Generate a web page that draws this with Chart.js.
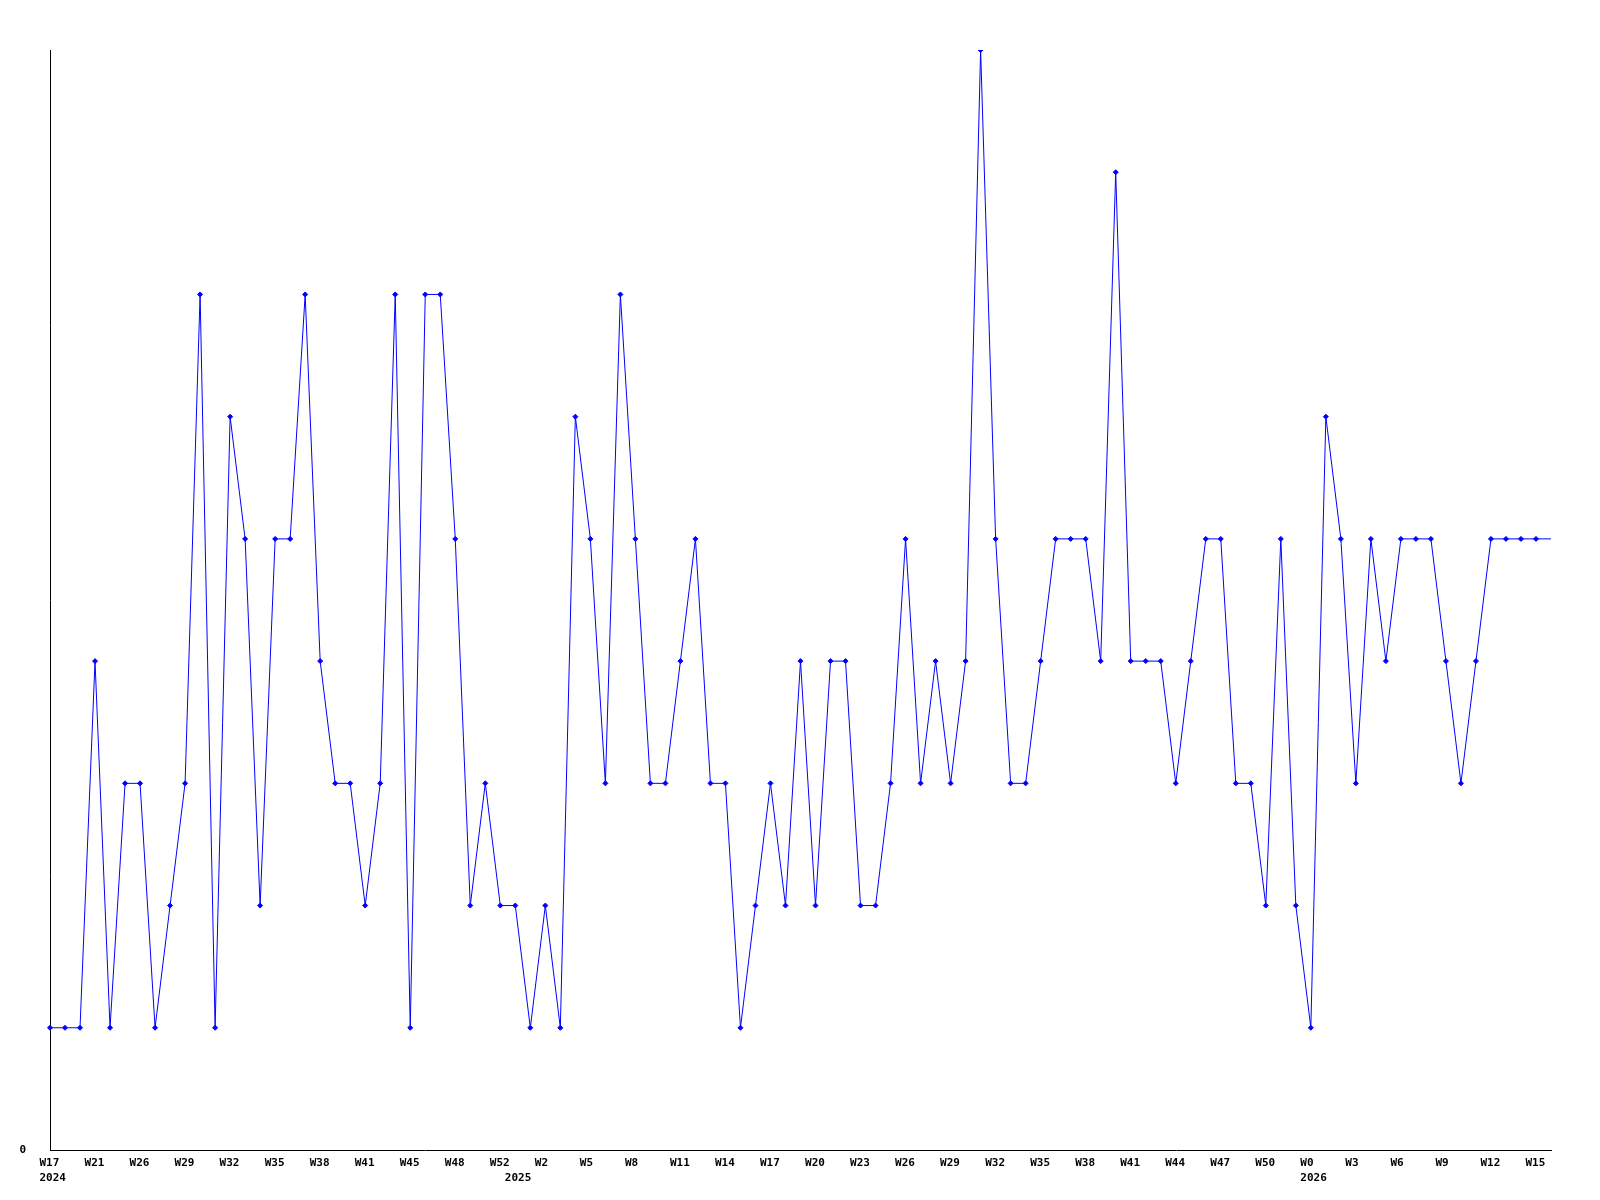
<!DOCTYPE html>
<html>
<head>
<meta charset="utf-8">
<script src="https://cdn.jsdelivr.net/npm/chart.js@4.4.1/dist/chart.umd.min.js"></script>
<style>
  html, body { margin: 0; padding: 0; background: #fff; }
  #wrap { width: 1600px; height: 1200px; }
</style>
</head>
<body>
<div id="wrap"><canvas id="weekChart" width="1600" height="1200"></canvas></div>
<script>
// weekly counts, one point per week (last point is the running week, no marker)
const values = [
    1, 1, 1, 4, 1, 3, 3, 1, 2, 3,
    7, 1, 6, 5, 2, 5, 5, 7, 4, 3,
    3, 2, 3, 7, 1, 7, 7, 5, 2, 3,
    2, 2, 1, 2, 1, 6, 5, 3, 7, 5,
    3, 3, 4, 5, 3, 3, 1, 2, 3, 2,
    4, 2, 4, 4, 2, 2, 3, 5, 3, 4,
    3, 4, 9, 5, 3, 3, 4, 5, 5, 5,
    4, 8, 4, 4, 4, 3, 4, 5, 5, 3,
    3, 2, 5, 2, 1, 6, 5, 3, 5, 4,
    5, 5, 5, 4, 3, 4, 5, 5, 5, 5,
    5
];

// week tick labels, one every third point
const tickWeeks = ['W17', 'W21', 'W26', 'W29', 'W32', 'W35', 'W38', 'W41', 'W45', 'W48',
    'W52', 'W2', 'W5', 'W8', 'W11', 'W14', 'W17', 'W20', 'W23', 'W26',
    'W29', 'W32', 'W35', 'W38', 'W41', 'W44', 'W47', 'W50', 'W0', 'W3',
    'W6', 'W9', 'W12', 'W15'];
const tickEvery = 3;

// year labels and the point index where each one sits
const yearLabels = ['2024', '2025', '2026'];
const yearAt = [0, 31, 84];

const yMax = 9;
const lineColor = '#0000ff';
const tickFont = { family: "'DejaVu Sans Mono', monospace", size: 11, weight: 'bold', lineHeight: 15 / 11 };

function xTickLabel(i) {
    let week = '';
    if (i % tickEvery === 0 && i / tickEvery < tickWeeks.length) {
        week = tickWeeks[i / tickEvery];
    }
    const y = yearAt.indexOf(i);
    if (y >= 0) return [week, yearLabels[y]];
    return week || null;
}

function initChart() {
    const canvas = document.getElementById('weekChart');
    if (!canvas) return;

    const labels = values.map((v, i) => i);

    new Chart(canvas.getContext('2d'), {
        type: 'line',
        data: {
            labels: labels,
            datasets: [{
                data: values,
                borderColor: lineColor,
                backgroundColor: lineColor,
                borderWidth: 1,
                tension: 0,
                fill: false,
                pointStyle: 'rectRot',
                pointRadius: ctx => ctx.dataIndex === values.length - 1 ? 0 : 2.5,
                pointBorderWidth: 1,
                pointBorderColor: lineColor,
                pointBackgroundColor: lineColor
            }]
        },
        options: {
            responsive: false,
            animation: false,
            devicePixelRatio: 1,
            layout: { padding: { top: 50, right: 49, bottom: 0, left: 0 } },
            plugins: {
                legend: { display: false },
                tooltip: { enabled: false }
            },
            scales: {
                x: {
                    type: 'category',
                    offset: false,
                    grid: { display: false, drawTicks: false },
                    border: { display: true, color: '#000', width: 1 },
                    afterFit: s => { s.height = 50; },
                    ticks: {
                        autoSkip: false,
                        maxRotation: 0,
                        minRotation: 0,
                        align: 'start',
                        labelOffset: -10.5,
                        padding: 6,
                        color: '#000',
                        font: tickFont,
                        callback: (val, i) => xTickLabel(i)
                    }
                },
                y: {
                    min: 0,
                    max: yMax,
                    grid: { display: false, drawTicks: false },
                    border: { display: true, color: '#000', width: 1 },
                    afterFit: s => { s.width = 50; },
                    ticks: {
                        stepSize: 1,
                        padding: 24,
                        color: '#000',
                        font: tickFont,
                        callback: v => v === 0 ? '0' : null
                    }
                }
            }
        }
    });
}

document.addEventListener('DOMContentLoaded', initChart);
</script>
</body>
</html>
